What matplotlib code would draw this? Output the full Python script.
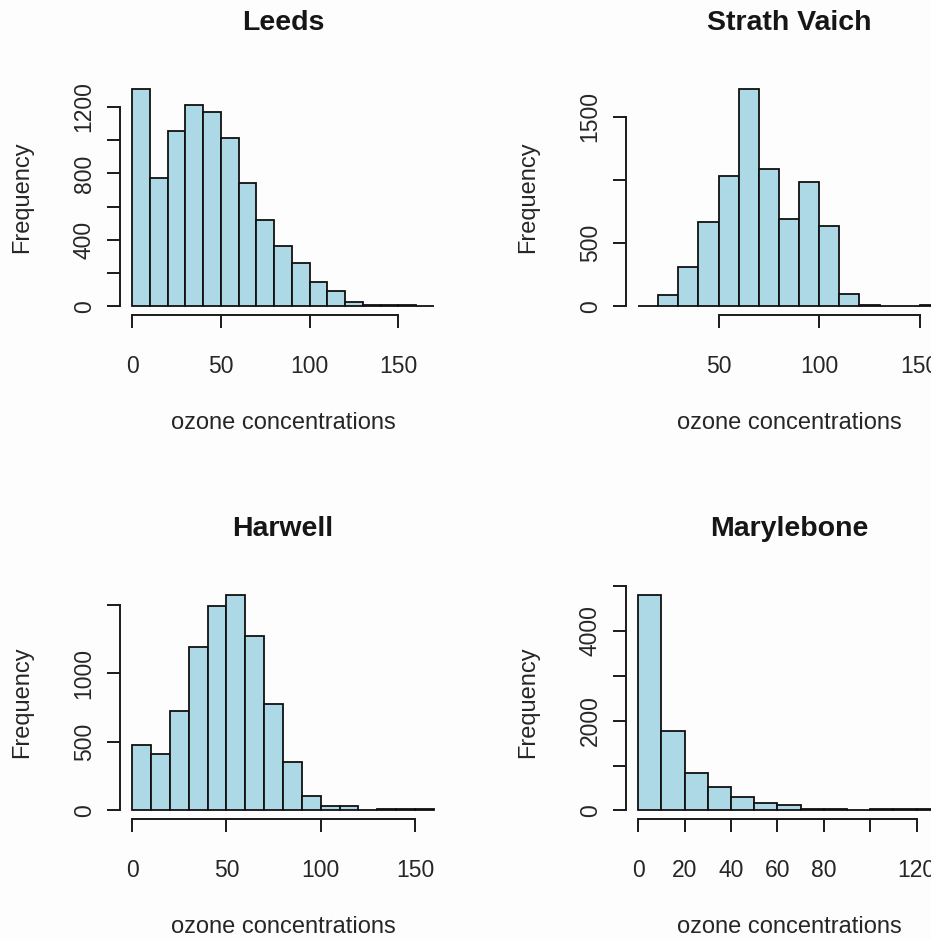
import numpy as np
import matplotlib
matplotlib.use("Agg")
import matplotlib.pyplot as plt

plt.rcParams['font.family'] = ['Liberation Sans', 'DejaVu Sans']

# counts per 10-unit bin
leeds_start = 0
leeds_counts = [1310, 775, 1058, 1212, 1168, 1012, 742, 518, 366, 258, 146, 92, 26, 10, 5, 5, 4]
strath_start = 10
strath_counts = [4, 92, 310, 666, 1032, 1724, 1087, 692, 987, 640, 100, 10, 4, 1, 8]
harwell_start = 0
harwell_counts = [478, 410, 723, 1188, 1492, 1572, 1268, 776, 352, 104, 35, 35, 3, 8, 8, 8]
maryle_start = 0
maryle_counts = [4800, 1765, 842, 517, 295, 163, 110, 38, 30, 3, 25, 25, 25]

leeds_xticks = [0, 50, 100, 150]
leeds_xlabels = ['0', '50', '100', '150']
leeds_yticks = [0, 200, 400, 600, 800, 1000, 1200]
leeds_ylabels = ['0', '', '400', '', '800', '', '1200']

strath_xticks = [50, 100, 150]
strath_xlabels = ['50', '100', '150']
strath_yticks = [0, 500, 1000, 1500]
strath_ylabels = ['0', '500', '', '1500']

harwell_xticks = [0, 50, 100, 150]
harwell_xlabels = ['0', '50', '100', '150']
harwell_yticks = [0, 500, 1000, 1500]
harwell_ylabels = ['0', '500', '1000', '']

maryle_xticks = [0, 20, 40, 60, 80, 100, 120]
maryle_xlabels = ['0', '20', '40', '60', '80', '', '120']
maryle_yticks = [0, 1000, 2000, 3000, 4000, 5000]
maryle_ylabels = ['0', '', '2000', '', '4000', '']

W, H = 931, 939
BG = '#fdfdfd'
TXT = '#262626'

fig = plt.figure(figsize=(W / 100, H / 100), dpi=100, facecolor=BG)


def box(left, top, right, bottom):
    return [left / W, 1 - bottom / H, (right - left) / W, (bottom - top) / H]


panels = [
    ("Leeds", box(120, 80, 446, 315), leeds_start, leeds_counts,
     leeds_xticks, leeds_xlabels, leeds_yticks, leeds_ylabels),
    ("Strath Vaich", box(626, 80, 952, 315), strath_start, strath_counts,
     strath_xticks, strath_xlabels, strath_yticks, strath_ylabels),
    ("Harwell", box(120, 586, 446, 819), harwell_start, harwell_counts,
     harwell_xticks, harwell_xlabels, harwell_yticks, harwell_ylabels),
    ("Marylebone", box(626, 586, 952, 819), maryle_start, maryle_counts,
     maryle_xticks, maryle_xlabels, maryle_yticks, maryle_ylabels),
]

for title, pos, start, counts, xt, xl, yt, yl in panels:
    ax = fig.add_axes(pos)
    ax.set_facecolor(BG)
    edges = start + 10 * np.arange(len(counts) + 1)
    ax.bar(edges[:-1], counts, width=10, align='edge', color='#add8e6',
           edgecolor='#111111', linewidth=1.3)

    lo, hi = edges[0], edges[-1]
    ax.set_xlim(lo - 0.04 * (hi - lo), hi + 0.04 * (hi - lo))
    top = max(counts)
    ax.set_ylim(-0.04 * top, 1.04 * top)

    for s in ['top', 'right']:
        ax.spines[s].set_visible(False)
    ax.spines['bottom'].set_bounds(xt[0], xt[-1])
    ax.spines['left'].set_bounds(yt[0], yt[-1])
    for s in ['bottom', 'left']:
        ax.spines[s].set_linewidth(1.4)
        ax.spines[s].set_color('#1a1a1a')

    ax.set_xticks(xt)
    ax.set_xticklabels(xl)
    ax.set_yticks(yt)
    ax.set_yticklabels(yl, rotation=90, va='center')
    ax.tick_params(axis='both', direction='out', length=9.5, width=1.4,
                   color='#1a1a1a', labelsize=16.5, labelcolor=TXT)
    ax.tick_params(axis='x', pad=19)
    ax.tick_params(axis='y', pad=8)

    h_px = (pos[3]) * H
    ax.set_xlabel("ozone concentrations", fontsize=17, color=TXT, va='center')
    ax.xaxis.set_label_coords(0.5, -108 / h_px)
    ax.set_ylabel("Frequency", fontsize=17, color=TXT, va='center')
    ax.yaxis.set_label_coords(-98 / (326), 0.5)
    ax.set_title(title, fontsize=20.5, fontweight='bold', color='#161616',
                 y=1 + 57 / h_px, va='center', pad=0)

plt.savefig("out.png", dpi=100, facecolor=BG)
